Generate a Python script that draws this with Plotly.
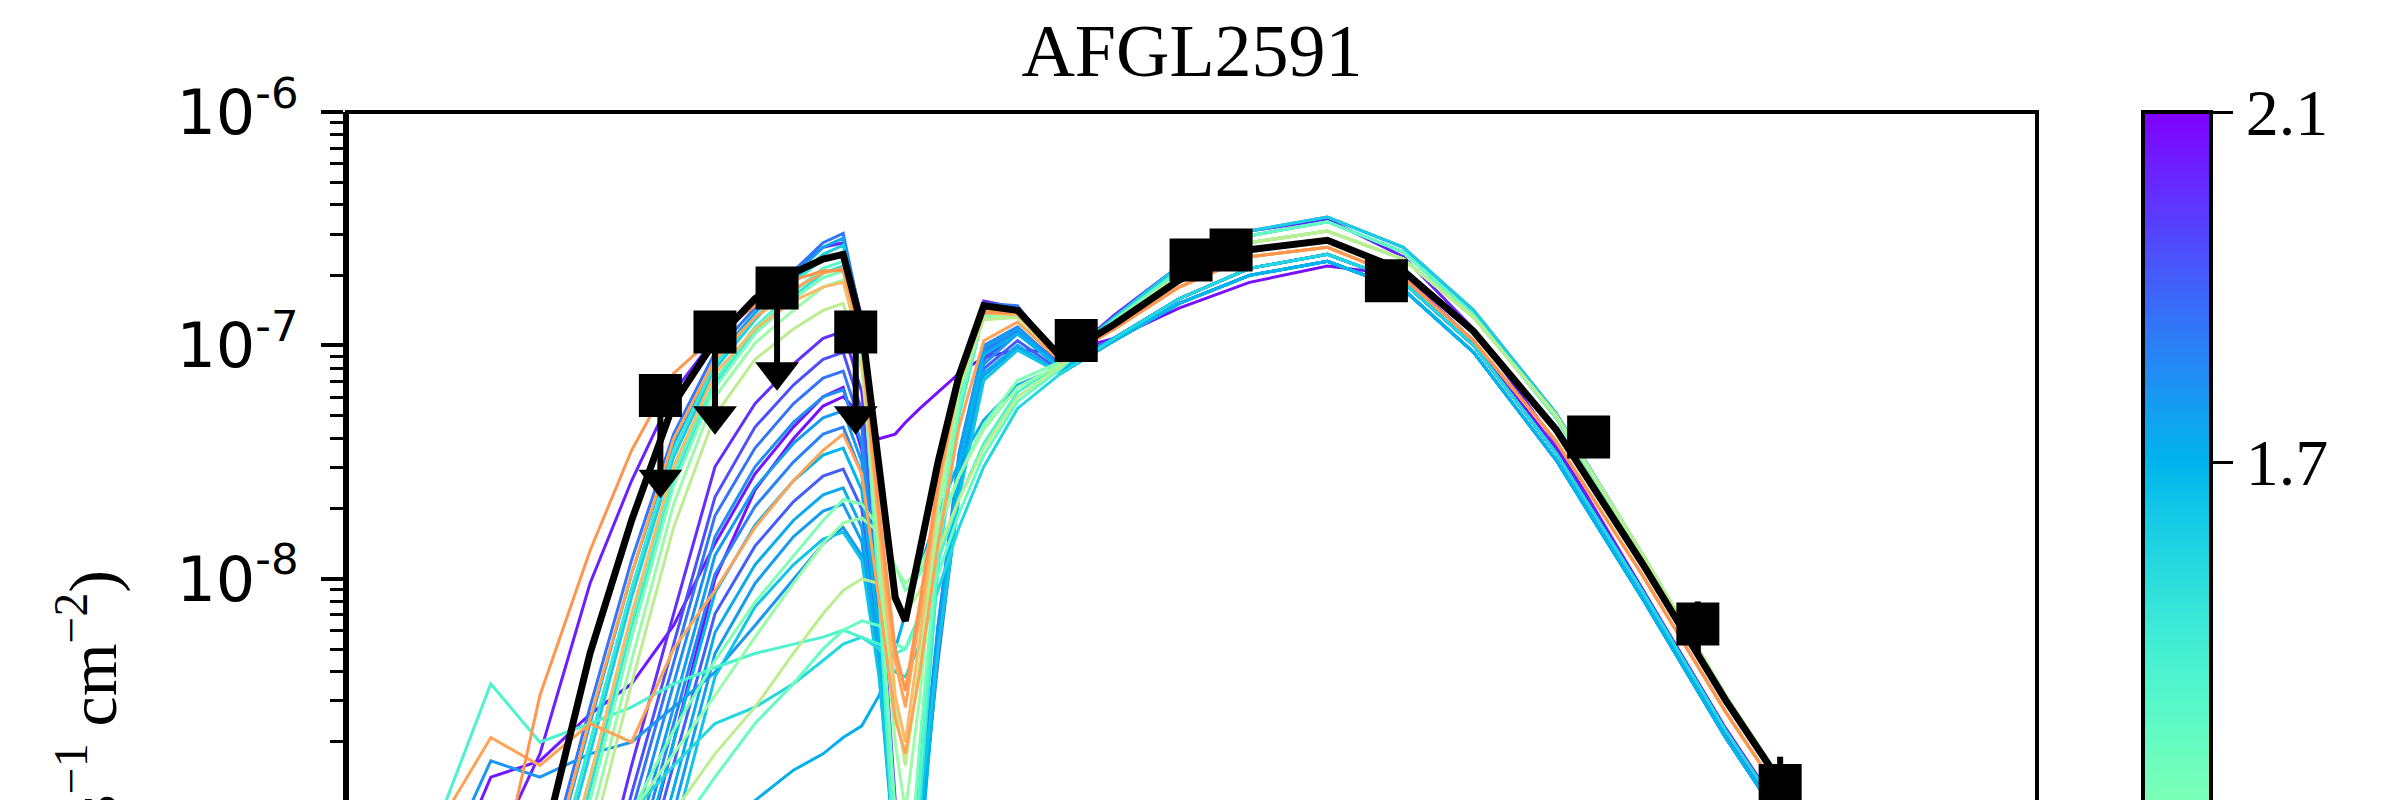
import numpy as np
import plotly.graph_objects as go
from plotly.colors import sample_colorscale

# ---------------------------------------------------------------
# Wavelength grid (micron) shared by all model SEDs
WAVE = [1.2, 1.5, 1.8, 2.2, 2.7, 3.2, 3.8, 4.5, 5.3, 6.2, 7.0, 7.6, 8.2, 8.8,
        9.4, 9.8, 10.4, 11.2, 12.2, 13.5, 15.5, 18.5, 23, 30, 40, 55, 75, 100,
        140, 200, 280, 400, 600, 1000]

# log10(nu F_nu / erg s^-1 cm^-2) of the best-fitting model
best_fit = [-11.0, -10.5, -9.9, -9.2, -8.32, -7.75, -7.25, -6.98, -6.80, -6.69, -6.63, -6.61,
            -6.92, -7.55, -8.08, -8.18, -7.87, -7.50, -7.13, -6.83, -6.85, -7.05,
            -6.91, -6.72, -6.59, -6.55, -6.68, -6.94, -7.36, -7.94, -8.52, -9.08, -9.9, -10.8]

# other good models: log10(nu F_nu) on WAVE
sed_a01 = [-11.4, -10.8, -10.1, -9.35, -8.55, -7.92, -7.38, -7.03, -6.84, -6.68, -6.56, -6.52,
           -6.90, -8.00, -9.15, -9.75, -8.80, -7.88, -7.24, -6.82, -6.83, -7.06,
           -6.88, -6.66, -6.51, -6.45, -6.58, -6.85, -7.29, -7.90, -8.50, -9.08, -9.88, -10.78]
sed_a02 = [-11.5, -10.9, -10.2, -9.42, -8.62, -7.98, -7.42, -7.06, -6.86, -6.70, -6.58, -6.54,
           -6.93, -8.05, -9.20, -9.80, -8.85, -7.90, -7.26, -6.84, -6.84, -7.06,
           -6.89, -6.68, -6.53, -6.47, -6.60, -6.87, -7.31, -7.91, -8.51, -9.09, -9.90, -10.80]
sed_a03 = [-11.6, -11.0, -10.3, -9.55, -8.75, -8.08, -7.48, -7.10, -6.89, -6.72, -6.61, -6.57,
           -6.95, -8.05, -9.25, -9.85, -8.90, -7.92, -7.27, -6.85, -6.85, -7.07,
           -6.88, -6.66, -6.51, -6.45, -6.58, -6.85, -7.29, -7.90, -8.50, -9.08, -9.88, -10.78]
sed_a04 = [-11.55, -10.95, -10.25, -9.50, -8.70, -8.04, -7.45, -7.08, -6.88, -6.73, -6.63, -6.60,
           -6.98, -8.08, -9.30, -9.90, -8.95, -7.95, -7.30, -6.86, -6.85, -7.07,
           -6.89, -6.68, -6.53, -6.47, -6.60, -6.87, -7.31, -7.91, -8.51, -9.09, -9.90, -10.80]
sed_a05 = [-11.7, -11.1, -10.4, -9.65, -8.85, -8.18, -7.55, -7.15, -6.92, -6.77, -6.67, -6.64,
           -7.00, -8.05, -9.20, -9.80, -8.85, -7.90, -7.28, -6.86, -6.86, -7.07,
           -6.90, -6.70, -6.56, -6.51, -6.63, -6.88, -7.30, -7.90, -8.50, -9.07, -9.88, -10.78]
sed_a06 = [-11.8, -11.2, -10.5, -9.75, -8.95, -8.25, -7.60, -7.18, -6.95, -6.80, -6.71, -6.68,
           -7.02, -7.98, -9.00, -9.50, -8.70, -7.82, -7.25, -6.87, -6.86, -7.06,
           -6.90, -6.70, -6.56, -6.51, -6.63, -6.88, -7.30, -7.90, -8.50, -9.07, -9.88, -10.78]
sed_a07 = [-11.9, -11.3, -10.6, -9.85, -9.05, -8.35, -7.68, -7.22, -6.99, -6.85, -6.75, -6.72,
           -7.03, -7.90, -8.70, -9.00, -8.50, -7.72, -7.20, -6.88, -6.87, -7.06,
           -6.90, -6.70, -6.56, -6.51, -6.63, -6.88, -7.30, -7.90, -8.50, -9.07, -9.88, -10.78]
sed_a08 = [-12.0, -11.4, -10.7, -9.95, -9.15, -8.45, -7.78, -7.30, -7.06, -6.93, -6.85, -6.82,
           -7.10, -7.85, -8.55, -8.80, -8.35, -7.65, -7.18, -6.89, -6.88, -7.06,
           -6.90, -6.70, -6.56, -6.51, -6.63, -6.88, -7.30, -7.90, -8.50, -9.07, -9.88, -10.78]
sed_a09 = [-11.5, -10.9, -10.2, -9.40, -8.60, -7.98, -7.40, -7.06, -6.88, -6.76, -6.69, -6.67,
           -6.98, -7.75, -8.35, -8.55, -8.15, -7.60, -7.15, -6.85, -6.86, -7.06,
           -6.93, -6.75, -6.62, -6.58, -6.71, -6.98, -7.41, -7.99, -8.57, -9.13, -9.95, -10.85]
sed_a10 = [-11.7, -11.1, -10.4, -9.65, -8.85, -8.15, -7.52, -7.12, -6.93, -6.81, -6.75, -6.73,
           -7.02, -7.80, -8.50, -8.70, -8.25, -7.62, -7.16, -6.86, -6.87, -7.06,
           -6.93, -6.75, -6.62, -6.58, -6.71, -6.98, -7.41, -7.99, -8.57, -9.13, -9.95, -10.85]
sed_a11 = [-10.4, -9.8, -9.2, -8.75, -8.02, -7.58, -7.20, -6.97, -6.82, -6.68, -6.58, -6.56,
           -6.88, -7.95, -9.10, -9.70, -8.80, -7.85, -7.24, -6.81, -6.84, -7.07,
           -6.87, -6.66, -6.51, -6.46, -6.62, -6.93, -7.42, -8.05, -8.66, -9.22, -10.0, -10.9]
sed_a12 = [-10.9, -10.2, -9.45, -8.50, -7.88, -7.45, -7.12, -6.96, -6.83, -6.72, -6.68, -6.68,
           -6.97, -7.70, -8.30, -8.48, -8.10, -7.58, -7.14, -6.86, -6.86, -7.06,
           -6.93, -6.75, -6.62, -6.58, -6.71, -6.98, -7.41, -7.99, -8.57, -9.13, -9.95, -10.85]
sed_a13 = [-11.75, -11.15, -10.45, -9.70, -8.90, -8.20, -7.58, -7.17, -6.94, -6.79, -6.69, -6.66,
           -7.01, -8.07, -9.25, -9.85, -8.92, -7.93, -7.29, -6.86, -6.86, -7.07,
           -6.89, -6.68, -6.53, -6.47, -6.60, -6.87, -7.31, -7.91, -8.51, -9.09, -9.90, -10.80]

sed_b01 = [-12.0, -11.5, -10.8, -10.2, -9.50, -8.80, -8.15, -7.52, -7.25, -7.08, -6.97, -6.94,
           -7.20, -7.95, -8.95, -9.45, -9.05, -8.25, -7.55, -7.05, -6.93, -7.08,
           -6.97, -6.80, -6.67, -6.61, -6.73, -7.00, -7.46, -8.06, -8.65, -9.21, -10.0, -10.9]
sed_b02 = [-12.1, -11.6, -10.9, -10.3, -9.62, -8.92, -8.28, -7.65, -7.35, -7.17, -7.06, -7.03,
           -7.28, -8.02, -9.05, -9.55, -9.10, -8.28, -7.55, -7.06, -6.94, -7.09,
           -6.98, -6.82, -6.70, -6.64, -6.76, -7.03, -7.49, -8.09, -8.68, -9.24, -10.05, -10.95]
sed_b03 = [-12.2, -11.7, -11.0, -10.4, -9.70, -9.00, -8.36, -7.73, -7.44, -7.25, -7.14, -7.11,
           -7.35, -8.10, -9.10, -9.60, -9.05, -8.20, -7.48, -7.02, -6.93, -7.09,
           -6.97, -6.80, -6.67, -6.61, -6.73, -7.00, -7.46, -8.06, -8.65, -9.21, -10.0, -10.9]
sed_b04 = [-12.3, -11.8, -11.1, -10.5, -9.80, -9.10, -8.45, -7.82, -7.52, -7.33, -7.22, -7.19,
           -7.42, -8.15, -9.15, -9.65, -9.10, -8.22, -7.46, -7.00, -6.92, -7.09,
           -6.98, -6.82, -6.70, -6.64, -6.76, -7.03, -7.49, -8.09, -8.68, -9.24, -10.05, -10.95]
sed_b05 = [-12.4, -11.9, -11.2, -10.6, -9.90, -9.20, -8.55, -7.90, -7.61, -7.42, -7.31, -7.28,
           -7.50, -8.20, -9.20, -9.70, -9.15, -8.25, -7.48, -7.01, -6.93, -7.10,
           -6.97, -6.80, -6.67, -6.61, -6.73, -7.00, -7.46, -8.06, -8.65, -9.21, -10.0, -10.9]
sed_b06 = [-12.5, -12.0, -11.3, -10.7, -10.05, -9.35, -8.70, -8.06, -7.77, -7.58, -7.47, -7.44,
           -7.62, -8.25, -9.25, -9.75, -9.20, -8.30, -7.52, -7.04, -6.95, -7.10,
           -6.98, -6.82, -6.70, -6.64, -6.76, -7.03, -7.49, -8.09, -8.68, -9.24, -10.05, -10.95]
sed_b07 = [-12.6, -12.1, -11.4, -10.8, -10.15, -9.45, -8.80, -8.15, -7.86, -7.67, -7.56, -7.53,
           -7.70, -8.30, -9.20, -9.60, -9.10, -8.35, -7.62, -7.10, -6.98, -7.11,
           -6.97, -6.80, -6.67, -6.61, -6.73, -7.00, -7.46, -8.06, -8.65, -9.21, -10.0, -10.9]
sed_b08 = [-12.7, -12.2, -11.5, -10.9, -10.25, -9.55, -8.90, -8.23, -7.94, -7.75, -7.64, -7.61,
           -7.78, -8.35, -9.20, -9.55, -9.05, -8.30, -7.62, -7.12, -7.00, -7.12,
           -6.98, -6.82, -6.70, -6.64, -6.76, -7.03, -7.49, -8.09, -8.68, -9.24, -10.05, -10.95]
sed_b09 = [-9.6, -9.0, -8.68, -8.80, -8.62, -8.70, -8.30, -8.05, -7.78, -7.58, -7.45, -7.38,
           -7.55, -8.10, -8.60, -8.75, -8.40, -7.85, -7.35, -6.98, -6.90, -7.07,
           -6.93, -6.75, -6.62, -6.58, -6.71, -6.98, -7.41, -7.99, -8.57, -9.13, -9.95, -10.85]
sed_b10 = [-13.0, -12.2, -11.5, -10.8, -10.0, -9.40, -8.70, -8.00, -7.62, -7.40, -7.26, -7.22,
           -7.30, -7.40, -7.38, -7.33, -7.27, -7.20, -7.12, -7.05, -7.02, -7.03,
           -6.97, -6.84, -6.73, -6.66, -6.70, -6.98, -7.44, -8.05, -8.64, -9.20, -10.0, -10.9]
sed_b11 = [-9.8, -9.3, -8.85, -8.78, -8.58, -8.45, -8.20, -7.85, -7.55, -7.35, -7.22, -7.18,
           -7.45, -8.25, -9.20, -9.60, -9.15, -8.30, -7.55, -7.06, -6.94, -7.09,
           -6.97, -6.80, -6.67, -6.61, -6.73, -7.00, -7.46, -8.06, -8.65, -9.21, -10.0, -10.9]
sed_b12 = [-9.9, -9.2, -8.78, -8.85, -8.75, -8.70, -8.55, -8.40, -8.20, -8.00, -7.85, -7.78,
           -7.90, -8.30, -9.00, -9.30, -8.95, -8.20, -7.55, -7.08, -6.95, -7.09,
           -6.98, -6.82, -6.70, -6.64, -6.76, -7.03, -7.49, -8.09, -8.68, -9.24, -10.05, -10.95]
sed_b13 = [-12.45, -11.95, -11.25, -10.65, -9.98, -9.28, -8.62, -7.98, -7.69, -7.50, -7.38, -7.35,
           -7.55, -8.22, -9.22, -9.72, -9.18, -8.28, -7.50, -7.03, -6.94, -7.10,
           -6.97, -6.80, -6.67, -6.61, -6.73, -7.00, -7.46, -8.06, -8.65, -9.21, -10.0, -10.9]
sed_b14 = [-12.8, -12.3, -11.6, -11.0, -10.35, -9.65, -9.00, -8.32, -8.02, -7.82, -7.71, -7.68,
           -7.84, -8.40, -9.22, -9.58, -9.08, -8.32, -7.64, -7.13, -7.01, -7.12,
           -6.98, -6.82, -6.70, -6.64, -6.76, -7.03, -7.49, -8.09, -8.68, -9.24, -10.05, -10.95]
sed_b15 = [-12.9, -12.4, -11.7, -11.1, -10.45, -9.75, -9.10, -8.42, -8.12, -7.94, -7.83, -7.80,
           -7.92, -8.42, -9.15, -9.45, -9.00, -8.30, -7.65, -7.15, -7.02, -7.12,
           -6.97, -6.80, -6.67, -6.61, -6.73, -7.00, -7.46, -8.06, -8.65, -9.21, -10.0, -10.9]

sed_c01 = [-9.6, -8.95, -8.45, -8.70, -8.62, -8.55, -8.45, -8.38, -8.32, -8.28, -8.25, -8.22,
           -8.25, -8.28, -8.32, -8.30, -8.15, -7.92, -7.66, -7.42, -7.20, -7.08,
           -6.90, -6.70, -6.56, -6.51, -6.63, -6.88, -7.30, -7.90, -8.50, -9.07, -9.88, -10.78]
sed_c02 = [-11.5, -11.0, -10.5, -9.80, -9.30, -9.00, -8.75, -8.50, -8.25, -8.02, -7.85, -7.76,
           -7.74, -7.80, -7.95, -8.02, -7.95, -7.78, -7.56, -7.36, -7.18, -7.08,
           -6.90, -6.70, -6.56, -6.51, -6.63, -6.88, -7.30, -7.90, -8.50, -9.07, -9.88, -10.78]
sed_c03 = [-12.0, -11.4, -10.8, -10.2, -9.60, -9.30, -9.00, -8.75, -8.55, -8.32, -8.15, -8.05,
           -8.00, -8.02, -8.10, -8.15, -8.05, -7.88, -7.66, -7.44, -7.22, -7.09,
           -6.90, -6.70, -6.56, -6.51, -6.63, -6.88, -7.30, -7.90, -8.50, -9.07, -9.88, -10.78]
sed_c04 = [-12.2, -11.6, -11.0, -10.4, -9.80, -9.40, -9.10, -8.85, -8.62, -8.45, -8.30, -8.22,
           -8.18, -8.20, -8.28, -8.30, -8.18, -7.98, -7.72, -7.47, -7.24, -7.10,
           -6.89, -6.68, -6.53, -6.47, -6.60, -6.87, -7.31, -7.91, -8.51, -9.09, -9.90, -10.80]
sed_c05 = [-11.8, -11.2, -10.6, -9.90, -9.30, -9.00, -8.80, -8.62, -8.55, -8.45, -8.35, -8.28,
           -8.25, -8.30, -8.40, -8.42, -8.28, -8.05, -7.78, -7.52, -7.27, -7.12,
           -6.97, -6.80, -6.67, -6.61, -6.73, -7.00, -7.46, -8.06, -8.65, -9.21, -10.0, -10.9]
sed_c06 = [-12.5, -11.8, -11.1, -10.5, -10.0, -9.70, -9.40, -9.15, -8.95, -8.82, -8.75, -8.68,
           -8.63, -8.50, -8.30, -8.15, -7.95, -7.72, -7.50, -7.32, -7.17, -7.09,
           -6.98, -6.82, -6.70, -6.64, -6.76, -7.03, -7.49, -8.09, -8.68, -9.24, -10.05, -10.95]
sed_c07 = [-12.0, -11.5, -10.8, -10.1, -9.50, -9.00, -8.65, -8.35, -8.10, -7.90, -7.75, -7.66,
           -7.68, -7.78, -7.95, -8.05, -7.98, -7.80, -7.56, -7.34, -7.15, -7.07,
           -6.90, -6.70, -6.56, -6.51, -6.63, -6.88, -7.30, -7.90, -8.50, -9.07, -9.88, -10.78]

# colour-bar position of each model (1 = top of bar, 0 = bottom)
MODEL_SCORE = {
    "sed_b10": 0.98, "sed_b11": 0.97, "sed_a11": 0.96, "sed_b01": 0.94, "sed_b02": 0.90,
    "sed_b07": 0.88, "sed_a01": 0.85, "sed_b03": 0.85, "sed_b13": 0.83, "sed_b04": 0.81,
    "sed_b12": 0.80, "sed_b05": 0.79, "sed_b14": 0.79, "sed_a02": 0.78, "sed_b08": 0.77,
    "sed_c06": 0.76, "sed_b06": 0.75, "sed_b15": 0.72, "sed_a03": 0.70, "sed_c05": 0.68,
    "sed_a13": 0.66, "sed_a04": 0.64, "sed_c01": 0.60, "sed_a05": 0.58, "sed_c04": 0.55,
    "sed_a06": 0.52, "sed_c07": 0.50, "sed_a07": 0.45, "sed_c02": 0.45, "sed_a08": 0.38,
    "sed_c03": 0.38, "sed_a10": 0.26, "sed_b09": 0.22, "sed_a09": 0.22, "sed_a12": 0.20,
}
SEDS = {name: globals()[name] for name in MODEL_SCORE}

# colour-bar tick labels
CBAR_TICKVALS = [1.0, 0.75, 0.5]
CBAR_TICKTEXT = ["2.1", "1.7", "1.5"]

# observed photometry (micron, erg s^-1 cm^-2)
OBS_WAVE = [3.6, 4.5, 5.8, 8.0, 19.7, 31.5, 37.1, 70, 160, 250, 350]
OBS_FLUX = [6.1e-8, 1.14e-7, 1.76e-7, 1.14e-7, 1.05e-7, 2.32e-7, 2.56e-7,
            1.89e-7, 4.05e-8, 6.4e-9, 1.30e-9]
OBS_UPPER = [True, True, True, True, False, False, False, False, False, False, False]
OBS_RELERR = [0, 0, 0, 0, 0, 0, 0, 0, 0, 0.25, 0.33]

# ---------------------------------------------------------------
# matplotlib-style "rainbow" map, violet at the top of the bar
def rainbow(t):
    r = min(1.0, abs(2 * t - 0.5))
    g = np.sin(np.pi * t)
    b = np.cos(np.pi * t / 2)
    return "rgb(%d,%d,%d)" % (round(255 * r), round(255 * g), round(255 * max(b, 0)))

COLORSCALE = [[v, rainbow(1 - v)] for v in np.linspace(0, 1, 41)]

PLOT_TOP = 112
DEC_PX = 233.4          # pixels per decade on the flux axis
Y_BOTTOM = -6 - (800 - PLOT_TOP) / DEC_PX
ARROW_DEX = 0.44        # length of upper-limit arrows
HEAD_SIZE = 38

fig = go.Figure()

wave = np.array(WAVE)
order = sorted(MODEL_SCORE, key=lambda k: -MODEL_SCORE[k])
for name in order:
    col = sample_colorscale(COLORSCALE, [MODEL_SCORE[name]])[0]
    fig.add_trace(go.Scatter(x=wave, y=10 ** np.array(SEDS[name]), mode="lines",
                             line=dict(color=col, width=3), hoverinfo="skip",
                             showlegend=False))

fig.add_trace(go.Scatter(x=wave, y=10 ** np.array(best_fit), mode="lines",
                         line=dict(color="black", width=7), showlegend=False))

# observed points: squares, upper limits drawn with a shaft and a head
flux = np.array(OBS_FLUX)
upper = np.array(OBS_UPPER)
relerr = np.array(OBS_RELERR)
err_up = np.where(upper, 0.0, relerr * flux)
err_dn = np.where(upper, flux * (1 - 10 ** (-(ARROW_DEX - 0.05))), relerr * flux)

fig.add_trace(go.Scatter(
    x=OBS_WAVE, y=OBS_FLUX, mode="markers",
    marker=dict(symbol="square", size=43, color="black", line=dict(width=0)),
    error_y=dict(type="data", symmetric=False, array=err_up, arrayminus=err_dn,
                 thickness=6, width=0, color="black"),
    showlegend=False))

head_y = flux[upper] * 10 ** (-ARROW_DEX + (HEAD_SIZE / 2) / DEC_PX)
fig.add_trace(go.Scatter(
    x=np.array(OBS_WAVE)[upper], y=head_y, mode="markers",
    marker=dict(symbol="triangle-down", size=HEAD_SIZE, color="black", line=dict(width=0)),
    showlegend=False))

# colour bar carrier
fig.add_trace(go.Scatter(
    x=[2000, 2000], y=[1e-3, 1e-3], mode="markers",
    marker=dict(size=1, color=[0, 1], cmin=0, cmax=1, colorscale=COLORSCALE,
                showscale=True,
                colorbar=dict(lenmode="pixels", len=1400, y=1, yanchor="top",
                              x=(2143 - 347) / 1690, xanchor="left", xpad=0, ypad=0,
                              thickness=68, outlinewidth=4, outlinecolor="black",
                              tickmode="array", tickvals=CBAR_TICKVALS,
                              ticktext=CBAR_TICKTEXT, ticks="outside", ticklen=20,
                              tickwidth=3, tickcolor="black",
                              tickfont=dict(family="Liberation Serif", size=66,
                                            color="black"))),
    hoverinfo="skip", showlegend=False))

major = [1e-6, 1e-7, 1e-8, 1e-9]
minor = [k * 10.0 ** e for e in range(-10, -6) for k in range(2, 10)]

fig.update_layout(
    width=2383, height=800, autosize=False,
    margin=dict(l=347, r=346, t=PLOT_TOP, b=0, pad=0),
    paper_bgcolor="white", plot_bgcolor="white",
    title=dict(text="AFGL2591", x=0.5, xref="paper", xanchor="center",
               y=1 - 50 / 800, yref="container", yanchor="middle",
               font=dict(family="Liberation Serif", size=74, color="black")),
    xaxis=dict(type="log", range=[0, 3], showline=False, showticklabels=False,
               ticks="", showgrid=False, zeroline=False),
    yaxis=dict(type="log", range=[Y_BOTTOM, -6], showline=True, linewidth=4,
               linecolor="black", ticks="outside", ticklen=22, tickwidth=4,
               tickcolor="black", tickmode="array", tickvals=major,
               ticktext=["10<sup>-6</sup>", "10<sup>-7</sup>", "10<sup>-8</sup>",
                         "10<sup>-9</sup>"],
               tickfont=dict(family="DejaVu Sans", size=62, color="black"),
               ticklabelstandoff=10,
               showgrid=False, zeroline=False,
               minor=dict(tickmode="array", tickvals=minor, ticks="outside",
                          ticklen=13, tickwidth=3, tickcolor="black", showgrid=False)),
    shapes=[dict(type="rect", xref="paper", yref="paper", x0=0, x1=1, y0=-0.5, y1=1,
                 line=dict(color="black", width=4), fillcolor="rgba(0,0,0,0)",
                 layer="above")],
    annotations=[dict(text="νF<sub>ν</sub> (erg s<sup>−1</sup> cm<sup>−2</sup>)",
                      xref="paper", yref="paper", x=(92 - 347) / 1690,
                      y=(800 - 812) / (800 - PLOT_TOP), xanchor="center",
                      yanchor="middle", textangle=-90, showarrow=False,
                      font=dict(family="Liberation Serif", size=68, color="black"))],
)

fig.write_html("out.html", config={"displayModeBar": False})
